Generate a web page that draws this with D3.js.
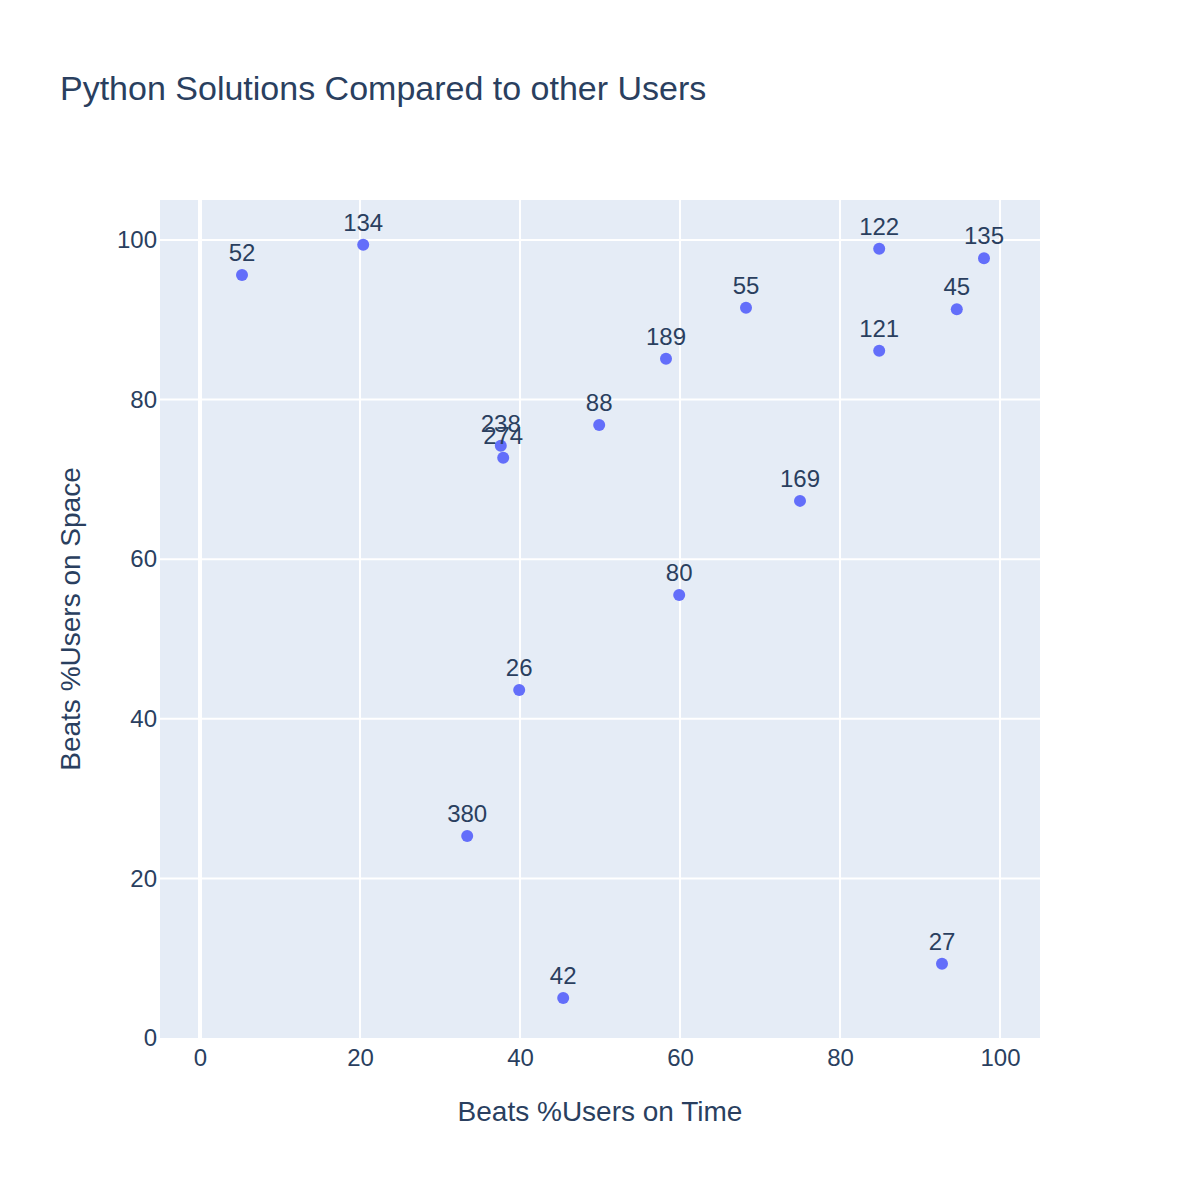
<!DOCTYPE html>
<html><head><meta charset="utf-8">
<script src="https://cdn.jsdelivr.net/npm/d3@7"></script>
<style>body{margin:0;background:#fff}</style>
</head><body>
<script>
const labels = ["52","134","122","135","55","45","121","189","88","238","274","169","80","26","380","27","42"];
const timeBeats = [5.25,20.4,84.9,98,68.25,94.6,84.9,58.25,49.9,37.6,37.9,75,59.9,39.9,33.4,92.75,45.4];
const spaceBeats = [95.6,99.4,98.9,97.7,91.5,91.3,86.1,85.1,76.8,74.2,72.7,67.3,55.5,43.6,25.3,9.3,5.0];
const xTicks = [0,20,40,60,80,100];
const yTicks = [0,20,40,60,80,100];

const W=1200,H=1200, m={l:160,r:160,t:200,b:162};
const font = "'Liberation Sans', Arial, sans-serif";
const txt = "#2a3f5f";
const svg = d3.select("body").append("svg").attr("width",W).attr("height",H);
const x = d3.scaleLinear().domain([-5,105]).range([m.l,W-m.r]);
const y = d3.scaleLinear().domain([0,105]).range([H-m.b,m.t]);

svg.append("rect").attr("x",m.l).attr("y",m.t).attr("width",W-m.l-m.r).attr("height",H-m.t-m.b).attr("fill","#e5ecf6");

const grid = svg.append("g");
xTicks.forEach(t=>grid.append("line").attr("x1",x(t)).attr("x2",x(t)).attr("y1",m.t).attr("y2",H-m.b)
  .attr("stroke","#fff").attr("stroke-width",t===0?4:2));
yTicks.filter(t=>t>0).forEach(t=>grid.append("line").attr("y1",y(t)).attr("y2",y(t)).attr("x1",m.l).attr("x2",W-m.r)
  .attr("stroke","#fff").attr("stroke-width",2));

const xAxis = d3.axisBottom(x).tickValues(xTicks).tickSize(0).tickPadding(11);
const gx = svg.append("g").attr("transform",`translate(0,${H-m.b})`).call(xAxis);
gx.select(".domain").remove();
gx.selectAll("text").attr("font-family",font).attr("font-size",24).attr("fill",txt);

const yAxis = d3.axisLeft(y).tickValues(yTicks).tickSize(0).tickPadding(3);
const gy = svg.append("g").attr("transform",`translate(${m.l},0)`).call(yAxis);
gy.select(".domain").remove();
gy.selectAll("text").attr("font-family",font).attr("font-size",24).attr("fill",txt);

const data = labels.map((l,i)=>({l,x:timeBeats[i],y:spaceBeats[i]}));
svg.append("g").selectAll("circle").data(data).join("circle")
  .attr("cx",d=>x(d.x)).attr("cy",d=>y(d.y)).attr("r",6).attr("fill","#636efa");
svg.append("g").selectAll("text").data(data).join("text")
  .attr("x",d=>x(d.x)).attr("y",d=>y(d.y)-14).attr("text-anchor","middle")
  .attr("font-family",font).attr("font-size",24).attr("fill",txt).text(d=>d.l);

svg.append("text").attr("x",60).attr("y",100).attr("font-family",font).attr("font-size",34).attr("fill",txt)
  .text("Python Solutions Compared to other Users");
svg.append("text").attr("x",(m.l+W-m.r)/2).attr("y",1121).attr("text-anchor","middle")
  .attr("font-family",font).attr("font-size",28).attr("fill",txt).text("Beats %Users on Time");
svg.append("text").attr("transform",`translate(80,${(m.t+H-m.b)/2}) rotate(-90)`).attr("text-anchor","middle")
  .attr("font-family",font).attr("font-size",28).attr("fill",txt).text("Beats %Users on Space");
</script>
</body></html>
